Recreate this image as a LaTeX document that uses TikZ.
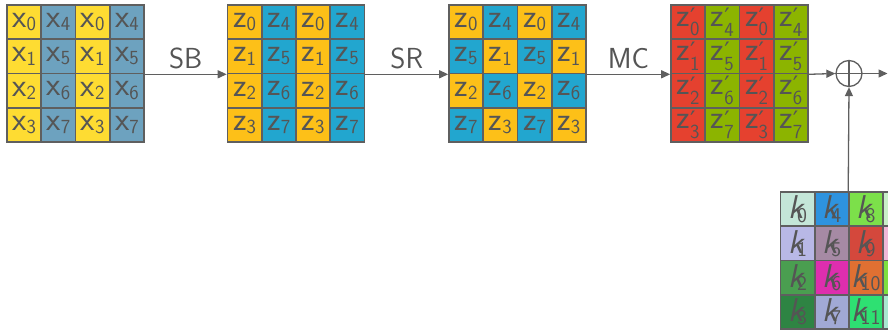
\documentclass[tikz,border=0pt]{standalone}
\usepackage{fontspec}
\newfontfamily\djv{DejaVu Sans}
\usetikzlibrary{arrows.meta}
\definecolor{lgray}{HTML}{5F5F5F}
\definecolor{tgray}{HTML}{555555}
\definecolor{yA}{HTML}{FEDC32}
\definecolor{bA}{HTML}{6DA2BF}
\definecolor{aM}{HTML}{FDC018}
\definecolor{cY}{HTML}{22A6CF}
\definecolor{rD}{HTML}{E5412F}
\definecolor{gR}{HTML}{8CB400}
\definecolor{k0c}{HTML}{C4E6D8}
\definecolor{k1c}{HTML}{B8B8E6}
\definecolor{k2c}{HTML}{4A9E50}
\definecolor{k3c}{HTML}{2E8443}
\definecolor{k4c}{HTML}{2E93DF}
\definecolor{k5c}{HTML}{A68AA4}
\definecolor{k6c}{HTML}{DE2EAE}
\definecolor{k7c}{HTML}{A1A9D5}
\definecolor{k8c}{HTML}{7CE04A}
\definecolor{k9c}{HTML}{D4483C}
\definecolor{k10c}{HTML}{E07032}
\definecolor{k11c}{HTML}{2EE072}
\definecolor{k12c}{HTML}{C8F0C8}
\definecolor{k13c}{HTML}{F0B8D8}
\definecolor{k14c}{HTML}{80E040}
\definecolor{k15c}{HTML}{A8E8D0}
\newcommand\vsub[2]{#1\raisebox{-0.1em}{\fontsize{20}{20}\selectfont #2}}
\newcommand\zsub[1]{z\rlap{\raisebox{0.02em}{\djv\fontsize{24}{24}\selectfont ′}}\raisebox{-0.3em}{\fontsize{20}{20}\selectfont #1}}
\newcommand\ksub[1]{\textit{k}\kern-0.24em\raisebox{-0.1em}{\fontsize{21}{21}\selectfont #1}}
\begin{document}
\begin{tikzpicture}[x=1pt,y=-1pt,
  cell/.style={draw=lgray, line width=1.6pt, minimum size=34.25pt, inner sep=0pt,
    text=tgray, font=\sffamily\fontsize{33}{33}\selectfont},
  arr/.style={draw=lgray, line width=1.3pt, -{Triangle[length=9pt,width=8pt]}},
  lbl/.style={text=tgray, font=\sffamily\fontsize{29}{30}\selectfont, inner sep=5pt}]
\useasboundingbox (0,0) rectangle (888,329);
\clip (0,0) rectangle (888,329);
% grid 1
\foreach \r/\c/\i/\f in {1/1/0/yA,1/2/4/bA,1/3/0/yA,1/4/4/bA,
  2/1/1/yA,2/2/5/bA,2/3/1/yA,2/4/5/bA,
  3/1/2/yA,3/2/6/bA,3/3/2/yA,3/4/6/bA,
  4/1/3/yA,4/2/7/bA,4/3/3/yA,4/4/7/bA}
  \node[cell, fill=\f] (ga-\r-\c) at ({7+(\c-0.5)*34.25},{5+(\r-0.5)*34.25}) {\vsub{x}{\i}};
% grid 2
\foreach \r/\c/\i/\f in {1/1/0/aM,1/2/4/cY,1/3/0/aM,1/4/4/cY,
  2/1/1/aM,2/2/5/cY,2/3/1/aM,2/4/5/cY,
  3/1/2/aM,3/2/6/cY,3/3/2/aM,3/4/6/cY,
  4/1/3/aM,4/2/7/cY,4/3/3/aM,4/4/7/cY}
  \node[cell, fill=\f] (gb-\r-\c) at ({227.5+(\c-0.5)*34.25},{5+(\r-0.5)*34.25}) {\vsub{z}{\i}};
% grid 3
\foreach \r/\c/\i/\f in {1/1/0/aM,1/2/4/cY,1/3/0/aM,1/4/4/cY,
  2/1/5/cY,2/2/1/aM,2/3/5/cY,2/4/1/aM,
  3/1/2/aM,3/2/6/cY,3/3/2/aM,3/4/6/cY,
  4/1/7/cY,4/2/3/aM,4/3/7/cY,4/4/3/aM}
  \node[cell, fill=\f] (gc-\r-\c) at ({449+(\c-0.5)*34.25},{5+(\r-0.5)*34.25}) {\vsub{z}{\i}};
% grid 4
\foreach \r/\c/\i/\f in {1/1/0/rD,1/2/4/gR,1/3/0/rD,1/4/4/gR,
  2/1/1/rD,2/2/5/gR,2/3/1/rD,2/4/5/gR,
  3/1/2/rD,3/2/6/gR,3/3/2/rD,3/4/6/gR,
  4/1/3/rD,4/2/7/gR,4/3/3/rD,4/4/7/gR}
  \node[cell, fill=\f] (gd-\r-\c) at ({671+(\c-0.5)*34.25},{5+(\r-0.5)*34.25}) {\zsub{\i}};
% key grid
\foreach \r/\c/\i in {1/1/0,1/2/4,1/3/8,1/4/12,
  2/1/1,2/2/5,2/3/9,2/4/13,
  3/1/2,3/2/6,3/3/10,3/4/14,
  4/1/3,4/2/7,4/3/11,4/4/15}
  \node[cell, fill=k\i c] (key-\r-\c) at ({780.5+(\c-0.5)*34.25},{192+(\r-0.5)*34.25}) {\ksub{\i}};
% xor
\node[draw=lgray, line width=1.3pt, circle, minimum size=26pt, inner sep=0pt] (xor) at (849,73.5) {};
\draw[lgray, line width=1.3pt] (xor.north) -- (xor.south) (xor.west) -- (xor.east);
\coordinate (out) at (887.5,73.5);
% connectors
\draw[arr] (ga-2-4.south east) -- node[above, lbl] {SB} (gb-2-1.south west);
\draw[arr] (gb-2-4.south east) -- node[above, lbl] {SR} (gc-2-1.south west);
\draw[arr] (gc-2-4.south east) -- node[above, lbl] {MC} (gd-2-1.south west);
\draw[arr] (gd-2-4.south east) -- (xor.west);
\draw[arr] (xor.east) -- (out);
\draw[arr] (key-1-3.north west) -- (xor.south);
\end{tikzpicture}
\end{document}
